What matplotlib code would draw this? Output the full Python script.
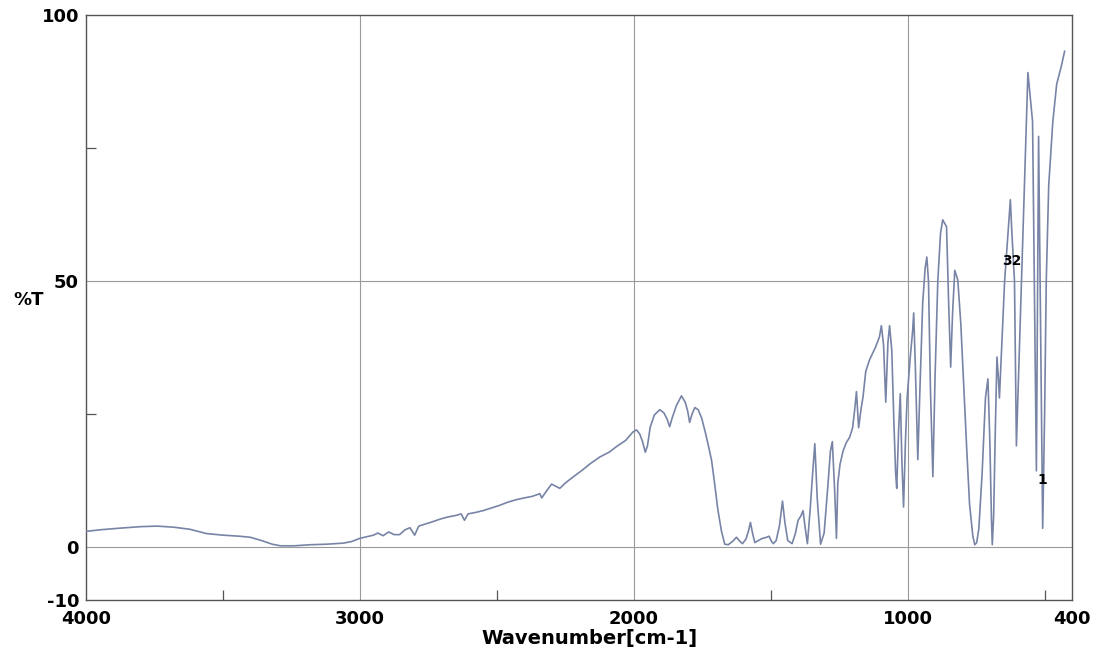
import numpy as np
import matplotlib.pyplot as plt

plt.rcParams['axes.unicode_minus'] = False

# spectrum: wavenumber [cm-1] vs %T
wavenumber = [
    4000, 3950, 3880, 3800, 3740, 3680, 3620, 3560, 3500, 3440, 3400, 3360,
    3320, 3290, 3240, 3180, 3120, 3060, 3030, 3000, 2975, 2950, 2935, 2915,
    2895, 2875, 2855, 2835, 2817, 2800, 2785, 2760, 2730, 2708, 2680, 2650,
    2630, 2618, 2605, 2575, 2551, 2520, 2490, 2460, 2427, 2400, 2370, 2343,
    2336, 2320, 2300, 2285, 2270, 2250, 2220, 2186, 2160, 2124, 2090, 2062,
    2030, 2003, 1990, 1978, 1968, 1958, 1950, 1940, 1925, 1905, 1890, 1878,
    1869, 1860, 1845, 1826, 1812, 1803, 1796, 1787, 1777, 1765, 1752, 1740,
    1730, 1716, 1705, 1693, 1680, 1668, 1655, 1640, 1625, 1612, 1603, 1590,
    1580, 1574, 1566, 1558, 1545, 1530, 1515, 1506, 1497, 1490, 1480, 1468,
    1457, 1448, 1438, 1422, 1410, 1400, 1390, 1382, 1374, 1366, 1356, 1346,
    1339, 1330, 1318, 1305, 1292, 1282, 1275, 1266, 1260, 1255, 1247, 1236,
    1224, 1212, 1201, 1193, 1187, 1179, 1170, 1163, 1153, 1139, 1117, 1103,
    1096, 1088, 1080, 1072, 1066, 1058, 1050, 1044, 1040, 1033, 1027, 1021,
    1015, 1008, 1002, 990, 982, 978, 972, 963, 955, 945, 936, 930,
    924, 917, 908, 900, 890, 880, 872, 858, 851, 843, 836, 828,
    817, 806, 795, 784, 774, 762, 755, 748, 740, 728, 716, 707,
    700, 694, 691, 686, 680, 674, 669, 665, 646, 625, 620, 610,
    603, 561, 544, 530, 522, 507, 500, 494, 485, 470, 456, 439, 427,
]
transmittance = [
    2.9, 3.2, 3.5, 3.8, 3.9, 3.7, 3.3, 2.5, 2.2, 2.0, 1.8, 1.2,
    0.5, 0.2, 0.2, 0.4, 0.5, 0.7, 1.0, 1.6, 1.9, 2.2, 2.6, 2.1,
    2.8, 2.3, 2.3, 3.2, 3.6, 2.2, 3.9, 4.3, 4.8, 5.2, 5.6, 5.9,
    6.2, 5.0, 6.2, 6.5, 6.8, 7.3, 7.8, 8.4, 8.9, 9.2, 9.5, 10.0,
    9.2, 10.4, 11.8, 11.4, 11.0, 12.0, 13.2, 14.5, 15.6, 16.9, 17.8, 18.9,
    20.0, 21.6, 22.0, 21.2, 19.8, 17.8, 19.0, 22.5, 24.8, 25.8, 25.2, 24.0,
    22.6, 24.2, 26.5, 28.4, 27.2, 25.5, 23.4, 25.0, 26.2, 25.8, 24.2, 21.8,
    19.6, 16.3, 12.0, 7.0, 3.0, 0.5, 0.4, 1.0, 1.8, 1.0, 0.6, 1.5,
    3.2, 4.6, 2.5, 0.8, 1.2, 1.6, 1.8, 2.0, 1.0, 0.6, 1.2, 4.0,
    8.6, 4.5, 1.2, 0.6, 2.5, 5.0, 5.8, 6.8, 3.5, 0.6, 7.0, 14.5,
    19.4, 9.0, 0.5, 2.6, 11.0, 18.0, 19.8, 10.0, 1.6, 12.0, 15.5, 18.0,
    19.6, 20.6, 22.4, 26.0, 29.2, 22.4, 26.0, 28.2, 33.0, 35.2, 37.6, 39.5,
    41.6, 38.0, 27.2, 38.5, 41.6, 37.0, 23.0, 14.0, 11.0, 22.0, 28.8, 16.0,
    7.5, 20.0, 28.0, 36.0, 40.5, 44.0, 34.0, 16.4, 30.0, 46.0, 52.5, 54.5,
    50.0, 30.0, 13.2, 32.0, 50.0, 59.0, 61.5, 60.2, 47.0, 33.8, 44.0, 52.0,
    50.2, 42.0, 30.0, 18.0, 8.0, 2.0, 0.4, 0.8, 3.5, 14.0, 28.0, 31.6,
    20.0, 5.0, 0.4, 6.0, 22.0, 35.7, 32.0, 28.0, 50.0, 65.3, 59.6, 50.0,
    19.0, 89.2, 80.0, 14.3, 77.2, 3.5, 25.0, 50.0, 68.0, 80.0, 87.0, 90.4, 93.2,
]

x_ticks = [4000, 3000, 2000, 1000, 400]
x_minor = [3500, 2500, 1500, 500]
y_ticks = [-10, 0, 50, 100]
y_minor = [25, 75]
grid_x = [3000, 2000, 1000]
grid_y = [0, 50]

# peak numbers printed by the instrument
label_wn = [620, 507]
label_t = [53.8, 12.5]
label_txt = ['32', '1']

fig = plt.figure(figsize=(10.95, 6.59), dpi=100)
ax = fig.add_axes([0.0785, 0.0895, 0.9005, 0.8875])

for g in grid_x:
    ax.axvline(g, color='#9a9a9a', lw=0.8, zorder=1)
for g in grid_y:
    ax.axhline(g, color='#9a9a9a', lw=0.8, zorder=1)

ax.plot(wavenumber, transmittance, color='#7884a6', lw=1.2, zorder=3)

for w, t, s in zip(label_wn, label_t, label_txt):
    ax.text(w, t, s, fontsize=10, fontweight='bold', ha='center', va='center', zorder=4)

ax.set_xlim(4000, 400)
ax.set_ylim(-10, 100)
ax.set_xticks(x_ticks)
ax.set_xticks(x_minor, minor=True)
ax.set_yticks(y_ticks)
ax.set_yticks(y_minor, minor=True)
ax.tick_params(which='major', length=0, labelsize=13, pad=5)
ax.tick_params(axis='x', which='major', pad=7)
ax.tick_params(which='minor', direction='in', length=7, width=0.9, color='#555555')
for lbl in ax.get_xticklabels() + ax.get_yticklabels():
    lbl.set_fontweight('bold')

for sp in ax.spines.values():
    sp.set_color('#555555')
    sp.set_linewidth(1.0)

ax.set_xlabel('Wavenumber[cm-1]', fontsize=14, fontweight='bold')
ax.xaxis.set_label_coords(0.511, -0.05)
fig.text(0.026, 1 - 300 / 659, '%T', fontsize=13, fontweight='bold', ha='center', va='center')

fig.savefig('out.png', dpi=100)
